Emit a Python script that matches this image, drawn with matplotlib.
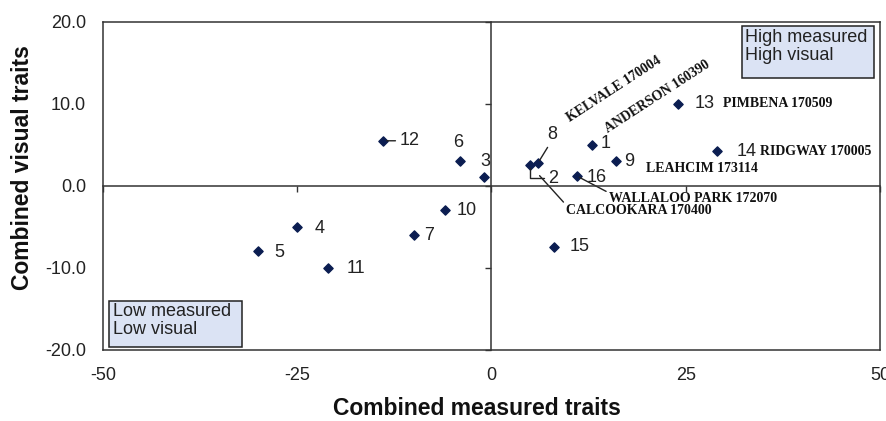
import numpy as np
import matplotlib.pyplot as plt
from matplotlib.patches import Rectangle
from matplotlib.ticker import FormatStrFormatter

# data
ids = [1, 2, 3, 4, 5, 6, 7, 8, 9, 10, 11, 12, 13, 14, 15, 16]
measured = [13, 5, -1, -25, -30, -4, -10, 6, 16, -6, -21, -14, 24, 29, 8, 11]
visual = [5, 2.5, 1.1, -5, -8, 3, -6, 2.8, 3, -3, -10, 5.5, 10, 4.3, -7.4, 1.2]

named_ids = [8, 1, 13, 14, 9, 16, 2]
names = ["KELVALE 170004", "ANDERSON 160390", "PIMBENA 170509", "RIDGWAY 170005",
         "LEAHCIM 173114", "WALLALOO PARK 172070", "CALCOOKARA 170400"]

x_ticks = [-50, -25, 0, 25, 50]
y_ticks = [-20, -10, 0, 10, 20]

# label placement (pixel offsets from the marker)
num_off = {1: (8, 1), 4: (17, -2), 5: (16, -1), 7: (10, 0), 9: (8, 0), 10: (12, 0),
           11: (18, -1), 13: (17, 0), 14: (20, -1), 15: (16, 0), 16: (10, -1)}
num_center = {3: (2, 15), 6: (-2, 19)}
name_off = {8: (32, 41, 33), 1: (16, 12, 33), 13: (45, 0, 0), 14: (43, -1, 0),
            9: (30, -7, 0), 16: (32, -22, 0), 2: (36, -45, 0)}

navy = "#0b1d51"
line_c = "#333333"
box_c = "#dbe3f4"

plt.rcParams['font.family'] = ['Liberation Sans', 'DejaVu Sans']
plt.rcParams['axes.unicode_minus'] = False

fig = plt.figure(figsize=(8.87, 4.21), dpi=100)
pos = [0.116, 0.169, 0.876, 0.779]
ax = fig.add_axes(pos)
ax.set_xlim(-50, 50)
ax.set_ylim(-20, 20)
ax.set_xticks(x_ticks)
ax.set_yticks(y_ticks)
ax.yaxis.set_major_formatter(FormatStrFormatter('%.1f'))
ax.tick_params(length=0, labelsize=13, labelcolor="#222222")
ax.tick_params(axis='y', pad=12)
ax.tick_params(axis='x', pad=12)
for s in ax.spines.values():
    s.set_color(line_c)
    s.set_linewidth(1.1)

# overlay axes for the crossing lines at zero
ax2 = fig.add_axes(pos, sharex=ax, sharey=ax)
ax2.patch.set_visible(False)
ax2.spines['left'].set_position(('data', 0))
ax2.spines['bottom'].set_position(('data', 0))
ax2.spines['top'].set_visible(False)
ax2.spines['right'].set_visible(False)
for s in ['left', 'bottom']:
    ax2.spines[s].set_color(line_c)
    ax2.spines[s].set_linewidth(1.1)
ax2.tick_params(labelleft=False, labelbottom=False, length=4, width=1.0,
                color=line_c, direction='out')

ax.scatter(measured, visual, marker='D', s=22, color=navy, zorder=3)

num_font = dict(fontsize=13, color="#222222")
for i, x, y in zip(ids, measured, visual):
    if i in num_off:
        dx, dy = num_off[i]
        ax.annotate(str(i), (x, y), xytext=(dx, dy), textcoords='offset pixels',
                    ha='left', va='center', **num_font)
    elif i in num_center:
        dx, dy = num_center[i]
        ax.annotate(str(i), (x, y), xytext=(dx, dy), textcoords='offset pixels',
                    ha='center', va='center', **num_font)
    elif i == 12:
        ax.annotate(str(i), (x, y), xytext=(17, 0), textcoords='offset pixels',
                    ha='left', va='center',
                    arrowprops=dict(arrowstyle='-', color='#222222', lw=1,
                                    shrinkA=1, shrinkB=3, relpos=(0, 0.5)),
                    **num_font)
    elif i == 8:
        ax.annotate(str(i), (x, y), xytext=(14, 28), textcoords='offset pixels',
                    ha='center', va='center',
                    arrowprops=dict(arrowstyle='-', color='#222222', lw=1,
                                    shrinkA=1, shrinkB=2, relpos=(0.3, 0)),
                    **num_font)
    elif i == 2:
        ax.annotate(str(i), (x, y), xytext=(23, -13), textcoords='offset pixels',
                    ha='center', va='center',
                    arrowprops=dict(arrowstyle='-', color='#222222', lw=1,
                                    shrinkA=1, shrinkB=2, relpos=(0, 0.5),
                                    connectionstyle="angle,angleA=0,angleB=90,rad=0"),
                    **num_font)

name_font = dict(family='Liberation Serif', fontweight='bold', fontsize=10, color="#111111")
for i, nm in zip(named_ids, names):
    k = ids.index(i)
    dx, dy, rot = name_off[i]
    if rot:
        ax.annotate(nm, (measured[k], visual[k]), xytext=(dx, dy), textcoords='offset pixels',
                    ha='left', va='baseline', rotation=rot, rotation_mode='anchor', **name_font)
    elif i in (16, 2):
        ax.annotate(nm, (measured[k], visual[k]), xytext=(dx, dy), textcoords='offset pixels',
                    ha='left', va='center',
                    arrowprops=dict(arrowstyle='-', color='#222222', lw=1,
                                    shrinkA=0, shrinkB=10 if i == 2 else 2,
                                    relpos=(0, 0.9)),
                    **name_font)
    else:
        ax.annotate(nm, (measured[k], visual[k]), xytext=(dx, dy), textcoords='offset pixels',
                    ha='left', va='center', **name_font)

# quadrant boxes
ax.add_patch(Rectangle((0.822, 0.829), 0.170, 0.159, transform=ax.transAxes,
                       facecolor=box_c, edgecolor='#222222', lw=1.1, zorder=4))
ax.text(0.826, 0.978, "High measured\nHigh visual", transform=ax.transAxes,
        ha='left', va='top', fontsize=13, color='#222222', linespacing=1.1, zorder=5)
ax.add_patch(Rectangle((0.008, 0.009), 0.171, 0.140, transform=ax.transAxes,
                       facecolor=box_c, edgecolor='#222222', lw=1.1, zorder=4))
ax.text(0.013, 0.142, "Low measured\nLow visual", transform=ax.transAxes,
        ha='left', va='top', fontsize=13, color='#222222', linespacing=1.05, zorder=5)

ax.set_xlabel("Combined measured traits", fontsize=16.5, fontweight='bold', color='#111111')
ax.set_ylabel("Combined visual traits", fontsize=16.5, fontweight='bold', color='#111111')
ax.xaxis.set_label_coords(0.481, -0.180)
ax.yaxis.set_label_coords(-0.103, 0.555)
ax.xaxis.label.set_va('center')
ax.yaxis.label.set_va('center')

fig.savefig("out.png", dpi=100)
